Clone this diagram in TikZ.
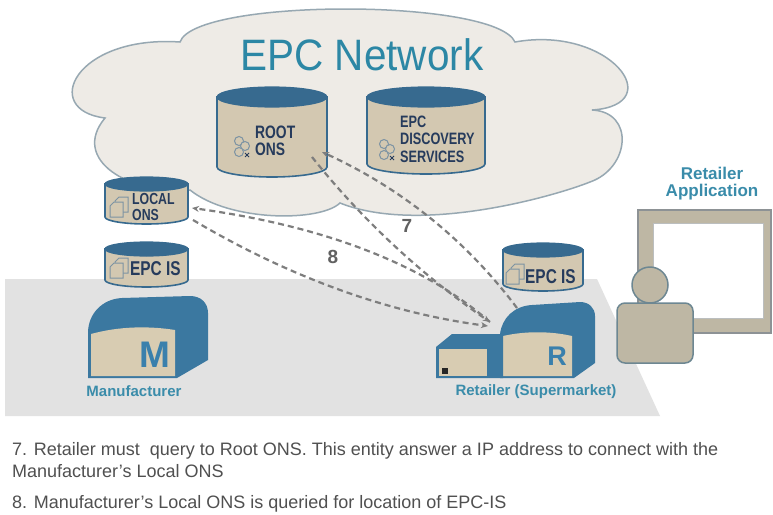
\documentclass[tikz,border=0pt]{standalone}
\usepackage{fontspec}
\setmainfont{Liberation Sans}
\newfontfamily\condfont[FakeStretch=0.77]{Liberation Sans}
\newfontfamily\titlefont[FakeStretch=0.92]{Liberation Sans}
\usetikzlibrary{arrows.meta}

\definecolor{cloudfill}{HTML}{EEEBE6}
\definecolor{cloudline}{HTML}{97A8B2}
\definecolor{floorgrey}{HTML}{E2E2E2}
\definecolor{cylblue}{HTML}{376A8F}
\definecolor{cyltan}{HTML}{D3C8B1}
\definecolor{navytext}{HTML}{263B5C}
\definecolor{bldblue}{HTML}{3B78A0}
\definecolor{bldtan}{HTML}{D8CCB2}
\definecolor{lettblue}{HTML}{3A80AC}
\definecolor{labelteal}{HTML}{3A8CAA}
\definecolor{titleteal}{HTML}{2C87A5}
\definecolor{screenframe}{HTML}{BEB7A4}
\definecolor{screenedge}{HTML}{8D9295}
\definecolor{personline}{HTML}{6D8792}
\definecolor{dashgrey}{HTML}{7E7E7E}
\definecolor{bodytext}{HTML}{505050}
\definecolor{icongrey}{HTML}{7C93A3}

\tikzset{
  cylbody/.style={fill=cyltan, draw=cylblue, line width=1.6pt},
  cyltop/.style={fill=cylblue, draw=cylblue, line width=1.2pt},
  cyltext/.style={anchor=base west, inner sep=0pt, align=left, text=navytext},
  iconstroke/.style={draw=icongrey, line width=1pt, fill=cyltan},
  bldshell/.style={fill=bldblue},
  bldface/.style={fill=bldtan},
  bldletter/.style={inner sep=0pt, text=lettblue, font=\bfseries\fontsize{37}{37}\selectfont},
  sitelabel/.style={anchor=base, inner sep=0pt, text=labelteal, font=\bfseries\fontsize{15}{15}\selectfont},
  flow/.style={draw=dashgrey, line width=2.2pt, dash pattern=on 6pt off 4pt,
    -{Stealth[length=7pt,width=6pt,fill=dashgrey]}},
  steplabel/.style={anchor=base, inner sep=0pt, text=bodytext!90, font=\bfseries\fontsize{19}{19}\selectfont},
  noteline/.style={anchor=base west, inner sep=0pt, text=bodytext, font=\fontsize{18}{22}\selectfont},
  screen/.style={fill=screenframe, draw=screenedge, line width=1.5pt},
  person/.style={fill=screenframe, draw=personline, line width=1.5pt}
}

% database cylinder: centre x, half width, top y, bottom y, ellipse half height
\newcommand\dbcyl[5]{%
  \path[cylbody] ({#1-#2},#3) -- ({#1-#2},#4)
    arc[start angle=180,end angle=360,x radius=#2pt,y radius=#5pt]
    -- ({#1+#2},#3) -- cycle;
  \path[cyltop] (#1,#3) ellipse[x radius=#2pt,y radius=#5pt];
}
% two stacked pages
\newcommand\pagesicon[2]{%
  \begin{scope}[shift={(#1,#2)}]
    \path[iconstroke] (9,0) -- (18,0) -- (18,15) -- (5,15) -- (5,4) -- cycle;
    \path[iconstroke] (4,5) -- (13,5) -- (13,20) -- (0,20) -- (0,9) -- cycle;
  \end{scope}
}
% cluster of service nodes
\newcommand\clustericon[2]{%
  \begin{scope}[shift={(#1,#2)}]
    \path[iconstroke] (7,5) circle[radius=4.5pt];
    \path[iconstroke] (13,10) circle[radius=4.5pt];
    \path[iconstroke] (7,16) circle[radius=4.5pt];
    \draw[navytext, line width=1pt] (13,17) -- (17,21) (13,21) -- (17,17);
  \end{scope}
}

\begin{document}
\begin{tikzpicture}[x=1pt, y=-1pt]
\useasboundingbox (0,0) rectangle (773,514);
\fill[white] (0,0) rectangle (773,514);

% network cloud
\path[fill=cloudfill, draw=cloudline, line width=1.5pt]
  (180,42) .. controls (195,-2) and (495,-2) .. (515,42)
  .. controls (610,25) and (670,105) .. (592,110)
  .. controls (635,112) and (630,168) .. (590,182)
  .. controls (555,196) and (420,235) .. (340,203)
  .. controls (320,222) and (230,222) .. (190,190)
  .. controls (130,195) and (70,160) .. (105,118)
  .. controls (40,110) and (75,35) .. (180,42) -- cycle;

% ground plane
\fill[floorgrey] (5,279) -- (597,279) -- (660,416) -- (5,416) -- cycle;

% databases
\dbcyl{272}{55}{97}{167}{10}
\dbcyl{426}{59}{97}{164}{10}
\dbcyl{146.5}{41.5}{184}{217}{7}
\dbcyl{146.5}{41.5}{249}{280}{7}
\dbcyl{543}{40}{250}{284}{7}

\clustericon{232}{136}
\clustericon{377}{139}
\pagesicon{110}{197}
\pagesicon{110}{258}
\pagesicon{506}{264}

% multi-line nodes: the base anchor sits on the last line
\node[cyltext, font=\condfont\bfseries\fontsize{18}{17}\selectfont] (rootons) at (255,155) {ROOT\\ONS};
\node[cyltext, font=\condfont\bfseries\fontsize{16.5}{17.5}\selectfont] (discovery) at (400,162) {EPC\\DISCOVERY\\SERVICES};
\node[cyltext, font=\condfont\bfseries\fontsize{16}{16}\selectfont] (localons) at (132,220) {LOCAL\\ONS};
\node[cyltext, font=\condfont\bfseries\fontsize{20}{20}\selectfont] (mfgepcis) at (130,275) {EPC IS};
\node[cyltext, font=\condfont\bfseries\fontsize{20}{20}\selectfont] (retepcis) at (525,283) {EPC IS};

% manufacturer building
\path[bldshell] (88,378) -- (88,333) .. controls (88,314) and (102,299) .. (122,298)
  -- (190,296) .. controls (201,296) and (208,303) .. (208,313)
  -- (208,360) -- (177,378) -- cycle;
\path[bldface] (91,376) -- (91,334) .. controls (120,326) and (150,326) .. (175,330)
  -- (175,376) -- cycle;
\node[bldletter] (mletter) at (155,355) {M};
\node[sitelabel] (mfglabel) at (134,396) {Manufacturer};

% retailer buildings
\path[bldshell] (500,378) -- (500,334) .. controls (502,318) and (514,306) .. (532,305)
  -- (580,302) .. controls (589,302) and (595,308) .. (595,316)
  -- (595,363) -- (574,378) -- cycle;
\path[bldface] (503,376) -- (503,336) .. controls (525,331) and (550,331) .. (572,336)
  -- (572,376) -- cycle;
\path[bldshell] (436,378) -- (436,347) -- (452,334) -- (503,334) -- (503,378) -- cycle;
\path[bldface] (438.5,376) rectangle (487,348.5);
\fill[black!85] (442,368) rectangle (448,374);
\node[bldletter, font=\bfseries\fontsize{27}{27}\selectfont] (rletter) at (557,356) {R};
\node[sitelabel] (retlabel) at (536,395) {Retailer (Supermarket)};

% retailer application
\path[screen] (638,210) rectangle (771,333);
\path[fill=white, draw=screenedge!60, line width=0.8pt] (653,223) rectangle (763,318);
\path[person] (650,285) circle[radius=18pt];
\path[person, rounded corners=8pt] (617,303) rectangle (693,363);
\node[anchor=base, inner sep=0pt, align=center, text=labelteal,
  font=\bfseries\fontsize{17}{16.5}\selectfont] (retapp) at (712,196) {Retailer\\Application};

\node[anchor=base, inner sep=0pt, text=titleteal, font=\titlefont\fontsize{44}{44}\selectfont]
  (title) at (362,70) {EPC Network};

% message anchors
\coordinate (rootA) at (322,152);
\coordinate (rootB) at (312,157);
\coordinate (localC) at (192,208);
\coordinate (localD) at (193,220);
\coordinate (retA) at (517,308);
\coordinate (retB) at (490,322);
\coordinate (retC) at (490,322);
\coordinate (retD) at (488,326);

% step 7: query to Root ONS and its answer
\draw[flow] (retA) .. controls (466,240) and (401,188) .. (rootA);
\draw[flow] (rootB) .. controls (363,221) and (423,276) .. (retB);
% step 8: query to Local ONS and its answer
\draw[flow] (retC) .. controls (423,264) and (324,226) .. (localC);
\draw[flow] (localD) .. controls (291,278) and (389,313) .. (retD);

\node[steplabel] (seven) at (407,232) {7};
\node[steplabel] (eight) at (333,263) {8};

% notes
\node[noteline] (noteA) at (12,455) {7. Retailer must\ \ query to Root ONS. This entity answer a IP address to connect with the};
\node[noteline] (noteB) at (12,477) {Manufacturer’s Local ONS};
\node[noteline] (noteC) at (12,508) {8. Manufacturer’s Local ONS is queried for location of EPC-IS};
\end{tikzpicture}
\end{document}
